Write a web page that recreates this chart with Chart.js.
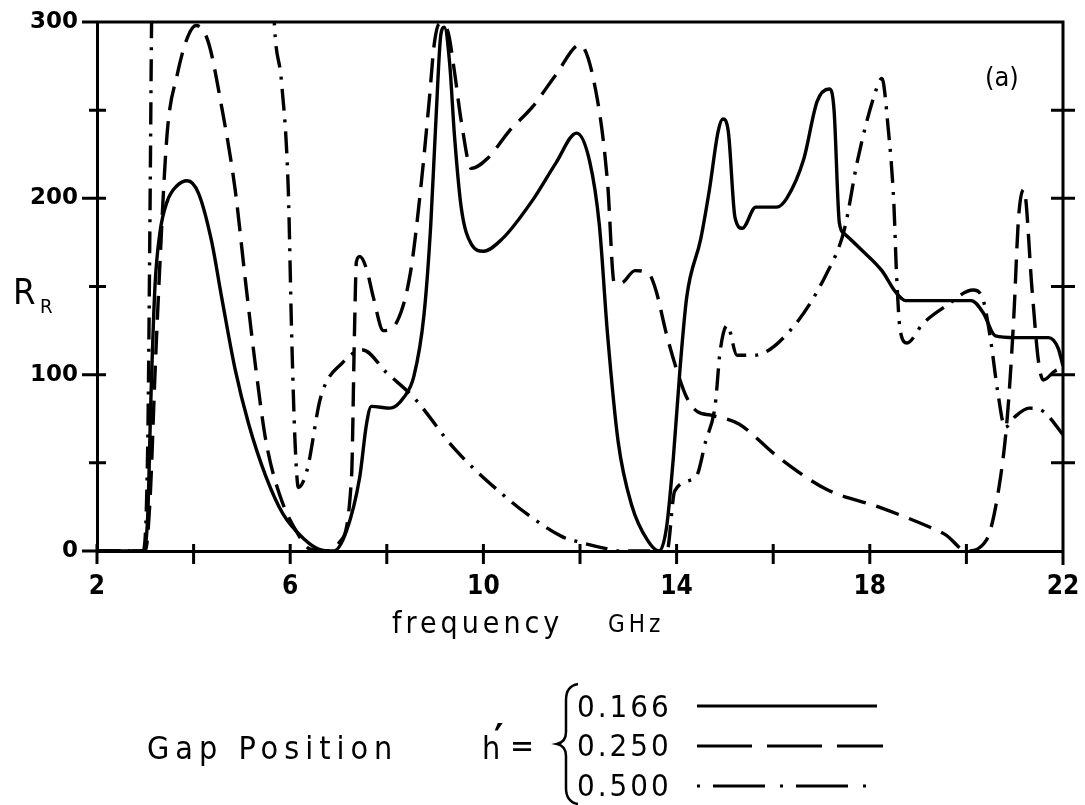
<!DOCTYPE html>
<html lang="en">
<head>
<meta charset="UTF-8" />
<title>Radiation resistance vs frequency</title>
<style>
  body { margin: 0; background: #fff; }
  #wrap { width: 1085px; height: 805px; }
</style>
</head>
<body>
<div id="wrap"><canvas id="chart" width="1085" height="805"></canvas></div>
<script src="https://cdn.jsdelivr.net/npm/chart.js"></script>
<script>
// values: frequency (GHz) and R_R for each gap position h'
const freq166 = [2.0, 2.95, 3.05, 3.12, 3.2, 3.3, 3.45, 3.65, 3.87, 4.1, 4.37, 4.58, 4.86, 5.14, 5.5, 5.85, 6.28, 6.6, 6.9,
  7.16, 7.44, 7.58, 7.68, 8.07, 8.35, 8.56, 8.77, 8.91, 9.02, 9.12, 9.19, 9.3, 9.4, 9.54, 9.75, 10.0, 10.39, 11.02, 11.5,
  11.93, 12.2, 12.4, 12.57, 12.79, 13.07, 13.4, 13.64, 13.79, 13.93, 14.07, 14.21, 14.5, 14.68, 14.86, 14.96, 15.07, 15.21,
  15.36, 15.64, 16.07, 16.28, 16.63, 16.91, 17.16, 17.26, 17.37, 17.47, 17.82, 18.25, 18.53, 18.74, 19.58, 20.1, 20.35,
  20.6, 21.0, 21.7, 21.9, 22.0];
const rr166 = [0, 0, 20, 90, 150, 180, 198, 207, 210, 203, 176, 144, 103, 72, 42, 21, 7, 1, 0,
  11, 42, 72, 82, 81, 87, 99, 134, 185, 246, 293, 297, 277, 236, 195, 174, 170, 177, 199, 220,
  237, 221, 185, 123, 62, 26, 6, 0, 13, 52, 103, 144, 177, 205, 238, 245, 238, 189,
  183, 195, 195, 200, 222, 255, 262, 250, 186, 180, 171, 159, 147, 142, 142, 142, 135,
  122, 121, 121, 115, 105];

const freq250 = [2.0, 3.0, 3.1, 3.2, 3.27, 3.45, 3.66, 3.87, 4.05, 4.3, 4.58, 4.86, 5.07, 5.29, 5.5, 5.78, 6.13, 6.42, 6.8,
  7.02, 7.27, 7.33, 7.37, 7.44, 7.58, 7.72, 7.93, 8.21, 8.49, 8.7, 8.88, 8.98, 9.09, 9.26, 9.4, 9.54, 9.75, 10.1, 10.53,
  11.02, 11.5, 12.0, 12.36, 12.57, 12.71, 12.85, 13.14, 13.43, 13.57, 13.79, 14.0, 14.21, 14.43, 14.71, 15.29, 16.07,
  17.1, 18.18, 19.2, 19.58, 20.0, 20.41, 20.68, 20.85, 20.98, 21.08, 21.19, 21.36, 21.49, 21.59, 21.83, 22.0];
const rr250 = [0, 0, 30, 100, 144, 236, 270, 291, 298, 289, 252, 205, 154, 103, 62, 32, 11, 1, 0,
  5, 42, 123, 164, 167, 160, 144, 125, 130, 158, 205, 256, 287, 299, 295, 272, 244, 217, 223, 238,
  252, 270, 287, 256, 209, 152, 152, 159, 157, 148, 123, 103, 87, 79, 77, 72, 54,
  35, 25, 14, 9, 0, 6, 37, 77, 132, 189, 205, 148, 108, 97, 102, 104];

// the 0.500 curve leaves the top of the frame between about 3.1 and 5.7 GHz
const freq500 = [2.0, 2.95, 3.05, 3.1, 3.13, 3.15, 5.62, 5.67, 5.82, 5.96, 6.03, 6.1, 6.17, 6.35, 6.63, 7.09, 7.5, 8.0,
  8.56, 9.4, 10.4, 11.0, 11.64, 12.0, 12.6, 12.8, 13.8, 13.96, 14.4, 14.6, 14.8, 14.9, 15.05, 15.25, 15.6, 16.35, 17.1,
  17.47, 17.75, 18.1, 18.25, 18.38, 18.5, 18.55, 18.63, 18.77, 19.1, 19.58, 20.14, 20.34, 20.5, 20.65, 20.8, 21.0, 21.3,
  21.6, 22.0];
const rr500 = [0, 0, 60, 200, 300, 340, 340, 300, 266, 205, 123, 62, 36, 46, 87, 107, 114, 101,
  87, 58, 32, 19, 8, 5, 1, 0, 0, 34, 42, 62, 83, 113, 128, 111, 111, 125, 157,
  182, 222, 259, 268, 240, 196, 159, 125, 118, 129, 139, 148, 143, 120, 90, 70, 76, 81,
  79, 66];

const gapLabels = ['0.166', '0.250', '0.500'];
const xLabelTicks = [2, 6, 10, 14, 18, 22];
const yLabelTicks = [0, 100, 200, 300];

const COND = '"DejaVu Sans Condensed", "DejaVu Sans", sans-serif';
const WIDE = '"DejaVu Sans", sans-serif';

const toPoints = (xs, ys) => xs.map((f, i) => ({ x: f, y: ys[i] }));

const lineStyles = [
  { dash: [], legendDash: [], legendEnd: 877 },
  { dash: [24, 11], legendDash: [55, 15], legendEnd: 883 },
  { dash: [22, 9, 3, 9], legendDash: [3, 13, 52, 15], legendEnd: 866 }
];

// frame: top/right border, ticks crossing the axes, and all the hand-lettered text
const frame = {
  id: 'frame',
  afterDraw(chart) {
    const { ctx, chartArea: a, scales: { x, y } } = chart;
    ctx.save();
    ctx.strokeStyle = '#000';
    ctx.fillStyle = '#000';
    ctx.lineWidth = 3;
    ctx.lineCap = 'butt';
    ctx.setLineDash([]);
    ctx.beginPath();
    ctx.moveTo(a.left - 1.5, a.top);
    ctx.lineTo(a.right, a.top);
    ctx.lineTo(a.right, a.bottom + 14);
    y.ticks.forEach(t => {
      const py = y.getPixelForValue(t.value);
      const labelled = yLabelTicks.includes(t.value);
      ctx.moveTo(a.left - (labelled ? 15 : 8), py);
      ctx.lineTo(a.left + 9, py);
      if (t.value > 0 && t.value < 300) {
        ctx.moveTo(a.right - 12, py);
        ctx.lineTo(a.right + 12, py);
      }
    });
    x.ticks.forEach(t => {
      const px = x.getPixelForValue(t.value);
      ctx.moveTo(px, a.bottom - 7);
      ctx.lineTo(px, a.bottom + 13);
    });
    ctx.stroke();

    ctx.textBaseline = 'alphabetic';
    ctx.textAlign = 'left';
    // y title R_R
    ctx.letterSpacing = '0px';
    ctx.font = '36px ' + COND;
    ctx.fillText('R', 13, 304);
    ctx.font = '20px ' + COND;
    ctx.fillText('R', 40, 313);
    // panel tag
    ctx.font = '27px ' + COND;
    ctx.fillText('(a)', 985, 86);
    // x title
    ctx.letterSpacing = '4px';
    ctx.font = '30px ' + COND;
    ctx.fillText('frequency', 392, 633);
    ctx.letterSpacing = '4px';
    ctx.font = '24px ' + COND;
    ctx.fillText('GHz', 608, 632);

    // legend block
    ctx.letterSpacing = '6px';
    ctx.font = '32px ' + COND;
    ctx.fillText('Gap Position', 147, 759);
    ctx.letterSpacing = '0px';
    ctx.fillText('h', 482, 759);
    ctx.fillText('=', 510, 757);
    ctx.font = 'bold 40px ' + COND;
    ctx.fillText('\u2032', 494, 753);

    // brace
    ctx.lineWidth = 2.5;
    ctx.beginPath();
    ctx.moveTo(578, 684);
    ctx.quadraticCurveTo(566, 686, 566, 700);
    ctx.lineTo(566, 732);
    ctx.quadraticCurveTo(566, 742, 557, 744);
    ctx.quadraticCurveTo(566, 746, 566, 756);
    ctx.lineTo(566, 788);
    ctx.quadraticCurveTo(566, 802, 578, 804);
    ctx.stroke();

    const rowBase = [717, 756, 796];
    const rowLine = [706, 746, 786];
    ctx.letterSpacing = '3px';
    ctx.font = '31px ' + COND;
    chart.data.datasets.forEach((ds, i) => {
      ctx.fillText(gapLabels[i], 577, rowBase[i]);
      ctx.lineWidth = 3;
      ctx.setLineDash(lineStyles[i].legendDash);
      ctx.beginPath();
      ctx.moveTo(697, rowLine[i]);
      ctx.lineTo(lineStyles[i].legendEnd, rowLine[i]);
      ctx.stroke();
    });
    ctx.restore();
  }
};

const datasets = [
  toPoints(freq166, rr166),
  toPoints(freq250, rr250),
  toPoints(freq500, rr500)
].map((pts, i) => ({
  label: "h' = " + gapLabels[i],
  data: pts,
  borderColor: '#000',
  borderWidth: 3.4,
  borderDash: lineStyles[i].dash,
  borderCapStyle: 'butt',
  borderJoinStyle: 'round',
  pointRadius: 0,
  cubicInterpolationMode: 'monotone',
  fill: false
}));

new Chart(document.getElementById('chart'), {
  type: 'line',
  data: { datasets },
  options: {
    responsive: false,
    animation: false,
    events: [],
    layout: { padding: { top: 22, right: 22, left: 0, bottom: 194 } },
    plugins: { legend: { display: false }, tooltip: { enabled: false } },
    scales: {
      x: {
        type: 'linear',
        min: 2,
        max: 22,
        afterFit(scale) {
          scale.height = 60;
          scale.paddingLeft = 0;
          scale.paddingRight = 0;
        },
        ticks: {
          stepSize: 2,
          padding: 21,
          maxRotation: 0,
          color: '#000',
          font: { family: COND, size: 26, weight: 'bold' },
          callback: v => xLabelTicks.includes(v) ? String(v) : ''
        },
        grid: { display: false, drawTicks: false },
        border: { display: true, color: '#000', width: 3 }
      },
      y: {
        min: 0,
        max: 300,
        afterFit(scale) {
          scale.width = 97;
          scale.paddingTop = 0;
          scale.paddingBottom = 0;
        },
        ticks: {
          stepSize: 50,
          padding: 19,
          color: '#000',
          font: { family: WIDE, size: 23, weight: 'bold' },
          callback: v => yLabelTicks.includes(v) ? String(v) : ''
        },
        grid: { display: false, drawTicks: false },
        border: { display: true, color: '#000', width: 3 }
      }
    }
  },
  plugins: [frame]
});
</script>
</body>
</html>
